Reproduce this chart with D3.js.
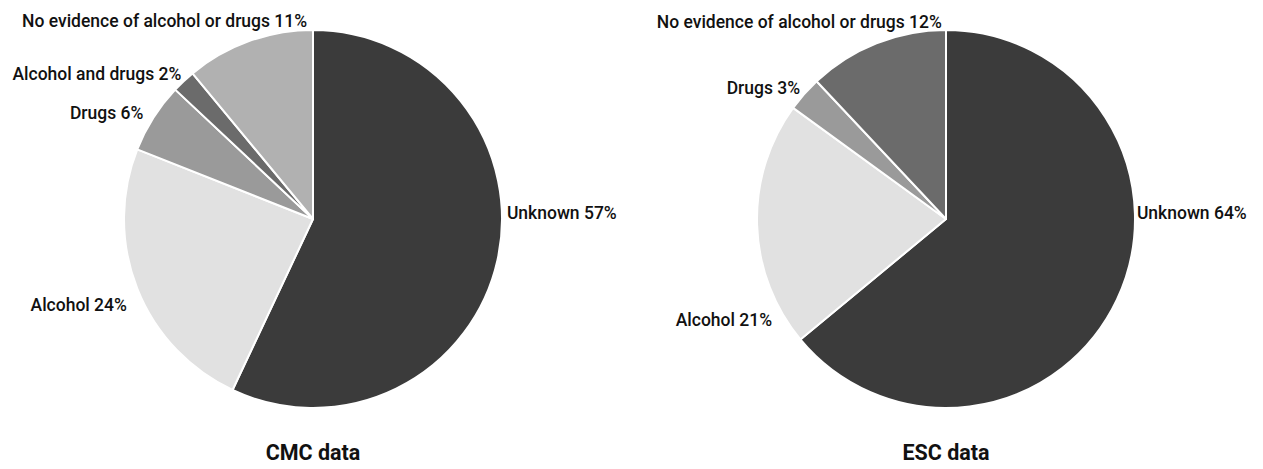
<!DOCTYPE html>
<html>
<head>
<meta charset="utf-8">
<script src="https://cdn.jsdelivr.net/npm/d3@7"></script>
<style>
  html, body { margin: 0; padding: 0; background: #fff; }
  svg { display: block; }
  text { font-family: Roboto, "DejaVu Sans", sans-serif; fill: #111; }
</style>
</head>
<body>
<svg id="chart" width="1263" height="469"></svg>
<script>
// Categories and shares (%) for each data source, clockwise from 12 o'clock
const cmcCategories = ["Unknown", "Alcohol", "Drugs", "Alcohol and drugs", "No evidence of alcohol or drugs"];
const cmcValues     = [57, 24, 6, 2, 11];
const escCategories = ["Unknown", "Alcohol", "Drugs", "No evidence of alcohol or drugs"];
const escValues     = [64, 21, 3, 12];
const chartTitles   = ["CMC data", "ESC data"];

// Fill per category within each pie
const cmcColors = ["#3b3b3b", "#e1e1e1", "#9a9a9a", "#6b6b6b", "#b1b1b1"];
const escColors = ["#3b3b3b", "#e1e1e1", "#9a9a9a", "#6b6b6b"];

// Label placement: polar angle (deg, clockwise from top) and distance from centre
const cmcLabelLayout = [[88.2, 194], [245.2, 205], [302.0, 200], [317.8, 196], [358.3, 198]];
const escLabelLayout = [[88.2, 191], [239.9, 201], [311.9, 196], [358.8, 197]];

const svg = d3.select("#chart");
const radius = 189;
const cy = 219;

const pies = [
  { cx: 313, cats: cmcCategories, vals: cmcValues, colors: cmcColors, layout: cmcLabelLayout, title: chartTitles[0] },
  { cx: 946, cats: escCategories, vals: escValues, colors: escColors, layout: escLabelLayout, title: chartTitles[1] }
];

const pieGen = d3.pie().sort(null).value(d => d.value);
const arcGen = d3.arc().innerRadius(0).outerRadius(radius);

pies.forEach(p => {
  const rows = p.cats.map((c, i) => ({ cat: c, value: p.vals[i], color: p.colors[i], layout: p.layout[i] }));
  const g = svg.append("g").attr("transform", `translate(${p.cx},${cy})`);

  g.selectAll("path.slice")
    .data(pieGen(rows))
    .join("path")
    .attr("class", "slice")
    .attr("d", arcGen)
    .attr("fill", d => d.data.color)
    .attr("stroke", "#fff")
    .attr("stroke-width", 2)
    .attr("stroke-linejoin", "round");

  g.selectAll("text.label")
    .data(rows)
    .join("text")
    .attr("class", "label")
    .attr("x", d => d.layout[1] * Math.sin(d.layout[0] * Math.PI / 180))
    .attr("y", d => -d.layout[1] * Math.cos(d.layout[0] * Math.PI / 180))
    .attr("dy", "0.35em")
    .attr("text-anchor", d => d.layout[0] < 180 ? "start" : "end")
    .attr("font-size", 17.5)
    .attr("font-weight", 500)
    .text(d => `${d.cat} ${d.value}%`);

  svg.append("text")
    .attr("x", p.cx)
    .attr("y", 460)
    .attr("text-anchor", "middle")
    .attr("font-size", 21.5)
    .attr("font-weight", "bold")
    .text(p.title);
});
</script>
</body>
</html>
